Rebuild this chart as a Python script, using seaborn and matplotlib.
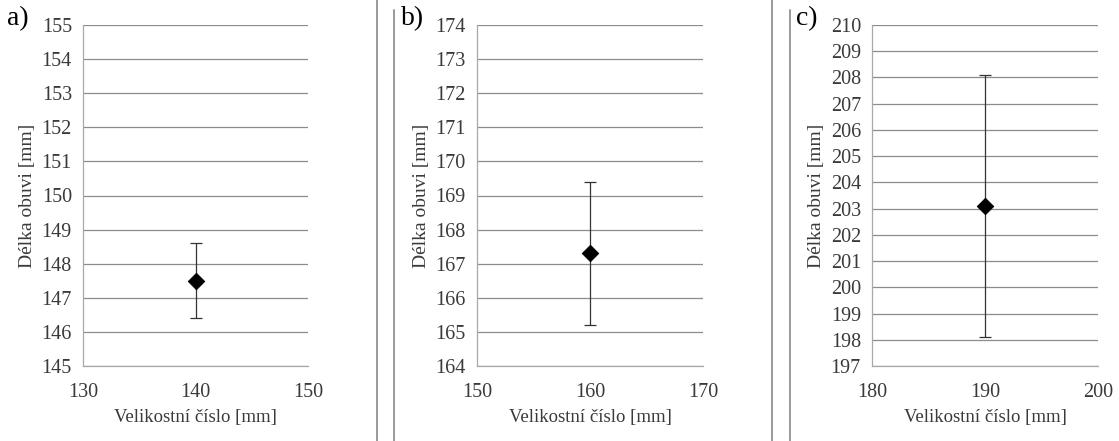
import numpy as np
import seaborn as sns
import matplotlib.pyplot as plt
from matplotlib.lines import Line2D

# values
panels = ["a)", "b)", "c)"]
sizes = [140, 160, 190]
means = [147.5, 167.3, 203.1]
errs = [1.1, 2.1, 5.0]
xlims = [(130, 150), (150, 170), (180, 200)]
ylims = [(145, 155), (164, 174), (197, 210)]

x_label = "Velikostní číslo [mm]"
y_label = "Délka obuvi [mm]"

sns.set_style("white")
plt.rcParams["font.family"] = ["Liberation Serif", "DejaVu Serif"]

W, H = 1119, 441
fig = plt.figure(figsize=(W / 100, H / 100), dpi=100)

# axes boxes in pixels: left, right (top/bottom shared)
boxes = [(83, 308), (477, 703), (872, 1098)]
top, bottom = 25, 366
text_col = "#3a3a3a"

for i, (l, r) in enumerate(boxes):
    ax = fig.add_axes([l / W, 1 - bottom / H, (r - l) / W, (bottom - top) / H])
    ax.errorbar(sizes[i], means[i], yerr=errs[i], fmt="none", ecolor="#333333",
                elinewidth=0.9, capsize=4, capthick=0.9, zorder=3)
    sns.scatterplot(x=[sizes[i]], y=[means[i]], marker="D", s=70, color="black",
                    edgecolor="black", ax=ax, zorder=4)
    ax.set_xlim(*xlims[i])
    ax.set_ylim(*ylims[i])
    ax.set_xticks(np.arange(xlims[i][0], xlims[i][1] + 1, 10))
    ax.set_yticks(np.arange(ylims[i][0], ylims[i][1] + 1, 1))
    ax.yaxis.grid(True, color="#8c8c8c", linewidth=0.9)
    ax.xaxis.grid(False)
    ax.set_axisbelow(True)
    for s in ["top", "right"]:
        ax.spines[s].set_visible(False)
    for s in ["left", "bottom"]:
        ax.spines[s].set_color("#a8a8a8")
        ax.spines[s].set_linewidth(0.9)
    ax.tick_params(axis="both", direction="out", length=5, width=0.9,
                   color="#a8a8a8", labelsize=14.5, labelcolor=text_col, pad=3)
    ax.tick_params(axis="x", pad=7)
    ax.set_xlabel(x_label, fontsize=13.5, color=text_col, labelpad=5)
    ax.set_ylabel(y_label, fontsize=14, color=text_col, labelpad=4)
    fig.text((l - 76) / W, 1 - 19 / H, panels[i], fontsize=20, color="black",
             ha="left", va="center")

# separator lines between the panels
for x, y0 in [(377, 0), (394, 10), (772, 0), (790, 10)]:
    fig.add_artist(Line2D([x / W, x / W], [0, 1 - y0 / H], color="#9a9a9a",
                          linewidth=1.4, transform=fig.transFigure))

fig.savefig("out.png", dpi=100, facecolor="white")
